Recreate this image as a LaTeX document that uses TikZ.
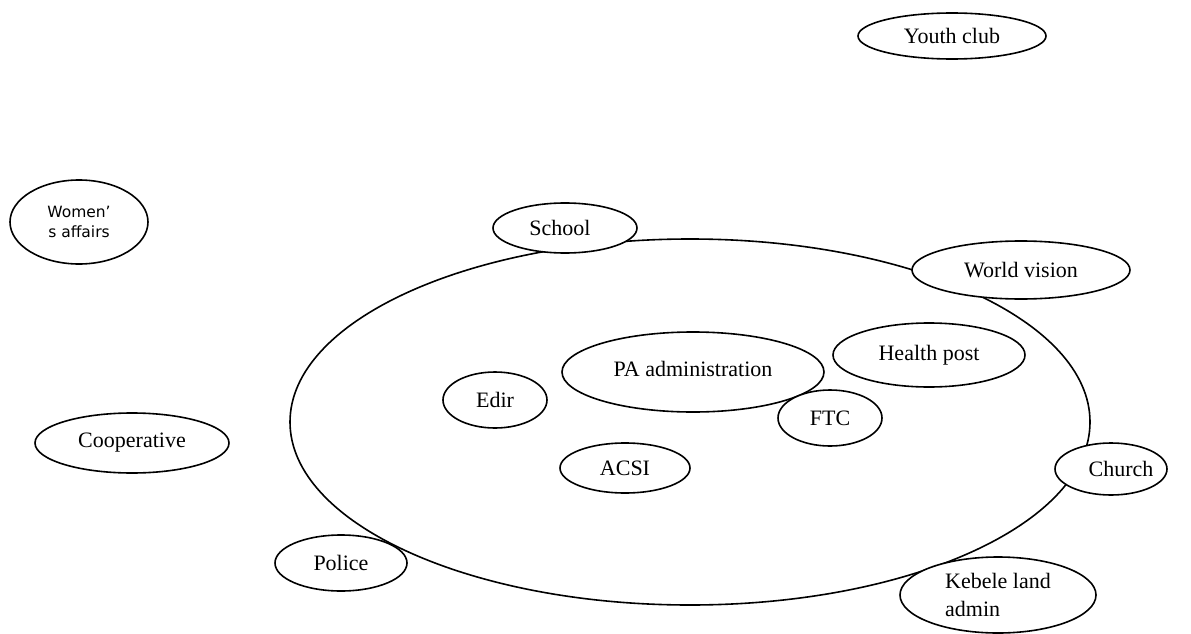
\documentclass[tikz,border=0pt]{standalone}
\usepackage{fontspec}
\setmainfont{Liberation Serif}
\newfontfamily\labelsans{DejaVu Sans}
\usetikzlibrary{shapes.geometric}

\tikzset{
  org/.style={ellipse, draw=black, line width=1.6pt, fill=white, inner sep=0pt,
    font=\fontsize{22}{28}\selectfont, align=center},
  ring/.style={ellipse, draw=black, line width=1.6pt, inner sep=0pt}
}

\begin{document}
\begin{tikzpicture}[x=1pt, y=-1pt]
  \useasboundingbox[fill=white] (0,0) rectangle (1191,634);

  % the community circle
  \node[ring, minimum width=800pt, minimum height=366pt] (core) at (690,422) {};

  % institutions outside and on the edge
  \node[org, minimum width=188pt, minimum height=46pt] (youth) at (952,36) {Youth club};
  \node[org, minimum width=138pt, minimum height=84pt, font=\labelsans\fontsize{15.5}{20}\selectfont]
    (women) at (79,222) {Women’\\s affairs};
  \node[org, minimum width=144pt, minimum height=50pt] (school) at (565,228) {\makebox[0pt]{School\hspace*{10pt}}};
  \node[org, minimum width=218pt, minimum height=58pt] (wvision) at (1021,270) {World vision};
  \node[org, minimum width=194pt, minimum height=60pt] (coop) at (132,443) {Cooperative};
  \node[org, minimum width=112pt, minimum height=52pt] (church) at (1111,469) {\makebox[0pt]{\hspace*{20pt}Church}};
  \node[org, minimum width=132pt, minimum height=56pt] (police) at (341,563) {Police};
  \node[org, minimum width=196pt, minimum height=76pt, align=left] (kebele) at (998,595) {Kebele land\\admin};

  % institutions inside
  \node[org, minimum width=192pt, minimum height=64pt] (health) at (929,355) {Health post};
  \node[org, minimum width=262pt, minimum height=80pt] (pa) at (693,372) {\raisebox{7pt}{PA administration}};
  \node[org, minimum width=104pt, minimum height=56pt] (edir) at (495,400) {Edir};
  \node[org, minimum width=104pt, minimum height=56pt] (ftc) at (830,418) {FTC};
  \node[org, minimum width=130pt, minimum height=50pt] (acsi) at (625,468) {ACSI};
\end{tikzpicture}
\end{document}
